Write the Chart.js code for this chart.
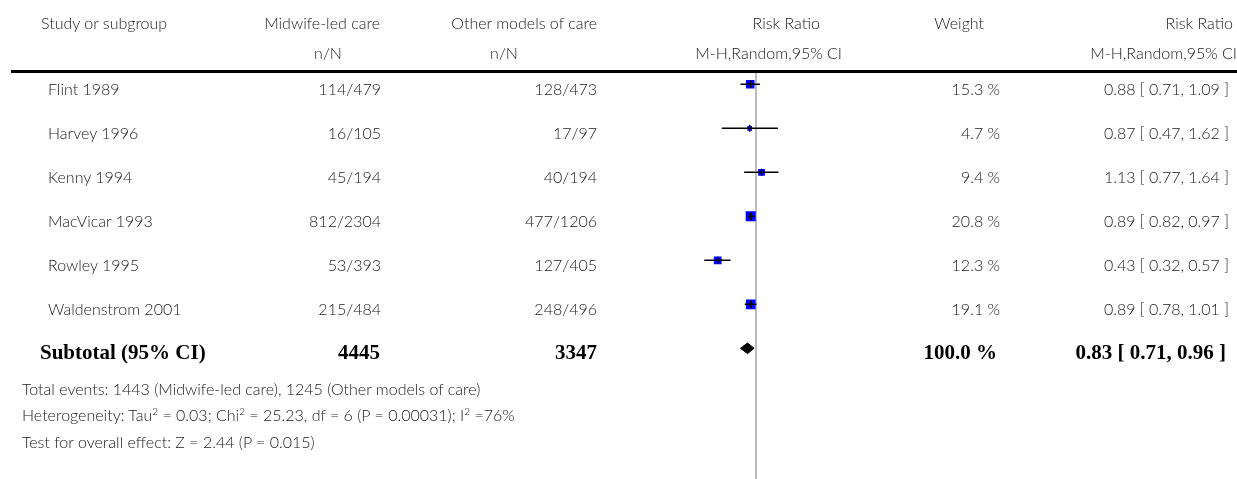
<!DOCTYPE html>
<html><head><meta charset="utf-8">
<script src="https://cdn.jsdelivr.net/npm/chart.js@4/dist/chart.umd.min.js"></script>
<style>
html,body{margin:0;padding:0;background:#fff;}
#wrap{position:relative;width:1237px;height:479px;overflow:hidden;font-family:Lato,sans-serif;font-weight:300;color:#1a1a1a;font-size:16px;}
#c{position:absolute;left:0;top:0;}
.t{position:absolute;white-space:nowrap;line-height:20px;height:20px;}
.b{font-family:"Liberation Serif",serif;font-weight:bold;font-size:21px;color:#000;}
sup{font-size:10px;line-height:0;vertical-align:6px;}
#hr{position:absolute;left:11px;top:69.5px;width:1226px;height:3px;background:#000;}
</style></head>
<body><div id="wrap"><canvas id="c" width="1237" height="479"></canvas><div id="hr"></div></div>
<script>
// ---- data ----
const studies = ["Flint 1989","Harvey 1996","Kenny 1994","MacVicar 1993","Rowley 1995","Waldenstrom 2001"];
const midwifeEvents = [114,16,45,812,53,215];
const midwifeTotal = [479,105,194,2304,393,484];
const otherEvents = [128,17,40,477,127,248];
const otherTotal = [473,97,194,1206,405,496];
const weights = [15.3,4.7,9.4,20.8,12.3,19.1];
const rr = [0.88,0.87,1.13,0.89,0.43,0.89];
const rrLow = [0.71,0.47,0.77,0.82,0.32,0.78];
const rrHigh = [1.09,1.62,1.64,0.97,0.57,1.01];
const subtotalLabel = "Subtotal (95% CI)";
const subtotalN = [4445, 3347];
const subtotalWeight = 100.0;
const subtotalRR = [0.83, 0.71, 0.96]; // estimate, low, high
const footerLines = [
  "Total events: 1443 (Midwife-led care), 1245 (Other models of care)",
  "Heterogeneity: Tau<sup>2</sup> = 0.03; Chi<sup>2</sup> = 25.23, df = 6 (P = 0.00031); I<sup>2</sup> =76%",
  "Test for overall effect: Z = 2.44 (P = 0.015)"
];
const headers1 = ["Study or subgroup","Midwife-led care","Other models of care","Risk Ratio","Weight","Risk Ratio"];
const headers2 = ["n/N","n/N","M-H,Random,95% CI","M-H,Random,95% CI"];

// ---- text table ----
const wrap = document.getElementById('wrap');
function addText(html, x, yc, align, cls){
  const d = document.createElement('div');
  d.className = 't' + (cls ? ' ' + cls : '');
  d.innerHTML = html;
  d.style.top = (yc - 10) + 'px';
  if (align === 'left') { d.style.left = x + 'px'; }
  else if (align === 'right') { d.style.left = (x - 500) + 'px'; d.style.width = '500px'; d.style.textAlign = 'right'; }
  else { d.style.left = (x - 250) + 'px'; d.style.width = '500px'; d.style.textAlign = 'center'; }
  wrap.appendChild(d);
}
const H1 = 23, H2 = 52.5, ROW0 = 89, STEP = 44;
addText(headers1[0], 41, H1, 'left');
addText(headers1[1], 380, H1, 'right');
addText(headers1[2], 597, H1, 'right');
addText(headers1[3], 820, H1, 'right');
addText(headers1[4], 984, H1, 'right');
addText(headers1[5], 1233, H1, 'right');
addText(headers2[0], 328, H2, 'center');
addText(headers2[1], 504, H2, 'center');
addText(headers2[2], 842, H2, 'right');
addText(headers2[3], 1237, H2, 'right');
const f2 = v => v.toFixed(2);
studies.forEach((s, i) => {
  const y = ROW0 + STEP * i;
  addText(s, 48, y, 'left');
  addText(midwifeEvents[i] + '/' + midwifeTotal[i], 381, y, 'right');
  addText(otherEvents[i] + '/' + otherTotal[i], 597, y, 'right');
  addText(weights[i].toFixed(1) + ' %', 1000, y, 'right');
  addText(f2(rr[i]) + ' [ ' + f2(rrLow[i]) + ', ' + f2(rrHigh[i]) + ' ]', 1229, y, 'right');
});
const ys = ROW0 + STEP * 6 - 1;
addText(subtotalLabel, 40, ys, 'left', 'b');
addText(String(subtotalN[0]), 380, ys, 'right', 'b');
addText(String(subtotalN[1]), 597, ys, 'right', 'b');
addText(subtotalWeight.toFixed(1) + ' %', 997, ys, 'right', 'b');
addText(f2(subtotalRR[0]) + ' [ ' + f2(subtotalRR[1]) + ', ' + f2(subtotalRR[2]) + ' ]', 1226, ys, 'right', 'b');
footerLines.forEach((l, k) => addText(l, 22, 388.5 + 26.5 * k, 'left'));

// ---- chart ----
const side = w => 2.2 * Math.sqrt(w);
const datasets = [];
// estimate ticks
datasets.push({data: rr.map((v,i)=>({x:v,y:i})), pointStyle:'line', rotation:90, pointRadius:3.5,
  borderColor:'#000', borderWidth:1.5, backgroundColor:'#000', order:0});
// CI lines
rr.forEach((v,i)=>{
  datasets.push({data:[{x:rrLow[i],y:i},{x:rrHigh[i],y:i}], showLine:true, borderColor:'#000',
    borderWidth:1.6, pointRadius:0, order:1});
});
// squares
datasets.push({data: rr.map((v,i)=>({x:v,y:i})), pointStyle:'rect',
  pointRadius: c => side(weights[c.dataIndex]) / Math.SQRT2,
  backgroundColor:'#0000ff', borderColor:'#0000ff', borderWidth:0, order:2});
// diamond
const dh = 0.12;
datasets.push({data:[{x:subtotalRR[1],y:6},{x:subtotalRR[0],y:6-dh},{x:subtotalRR[2],y:6},{x:subtotalRR[0],y:6+dh},{x:subtotalRR[1],y:6}],
  showLine:true, fill:'shape', backgroundColor:'#000', borderColor:'#000', borderWidth:1, pointRadius:0, tension:0, order:3});
// reference line at RR = 1
datasets.push({data:[{x:1,y:-0.28},{x:1,y:8.97}], showLine:true, borderColor:'#bdbdbd', borderWidth:2, pointRadius:0, order:4});

new Chart(document.getElementById('c'), {
  type:'scatter',
  data:{datasets},
  options:{
    responsive:false, animation:false, events:[],
    layout:{autoPadding:false, padding:{left:651.5, right:376.5, top:72, bottom:0}},
    plugins:{legend:{display:false}, tooltip:{enabled:false}},
    scales:{
      x:{type:'logarithmic', min:0.1, max:10, display:false},
      y:{type:'linear', min:-0.28, max:8.97, reverse:true, display:false}
    }
  }
});
</script>
</body></html>
